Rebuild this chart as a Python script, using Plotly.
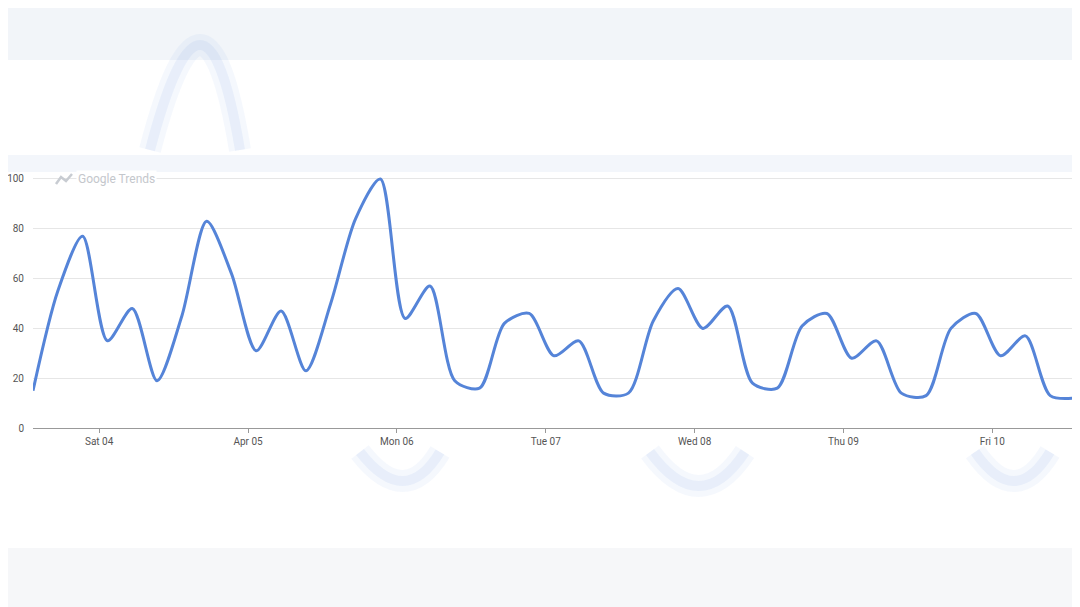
import pandas as pd
import plotly.graph_objects as go

# Google Trends interest, 4-hour steps
start = "2026-04-03 13:20"
values = [15, 55, 77, 35, 48, 19, 45, 83, 62, 31, 47, 23, 50, 84, 100, 44, 57,
          19, 16, 42, 46, 29, 35, 14, 14, 43, 56, 40, 49, 18, 16, 41, 46, 28,
          35, 14, 13, 40, 46, 29, 37, 13, 12]
times = pd.date_range(start, periods=len(values), freq="4h")

tick_dates = pd.date_range("2026-04-04", periods=7, freq="D")
tick_labels = ["Sat 04", "Apr 05", "Mon 06", "Tue 07", "Wed 08", "Thu 09", "Fri 10"]

W, H = 1080, 607
OFF = 8  # page body margin
L, R, T, B = 25, 13, 167, 187
PW, PH = W - L - R, H - T - B

fig = go.Figure()
fig.add_trace(go.Scatter(x=times, y=values, mode="lines",
                         line=dict(color="#5584d8", width=3, shape="spline", smoothing=0.8),
                         hoverinfo="x+y", showlegend=False))


# page pixel -> paper coordinates (paper is the plot area)
def px_(x):
    return (x - OFF - L) / PW


def py(y):
    return (H - B - (y - OFF)) / PH


shapes = [
    dict(type="rect", xref="paper", yref="paper", x0=px_(-10), x1=px_(1090), y0=py(60), y1=py(-10),
         fillcolor="#f2f5f9", line_width=0, layer="below"),
    dict(type="rect", xref="paper", yref="paper", x0=px_(-10), x1=px_(1090), y0=py(617), y1=py(548),
         fillcolor="#f6f7f9", line_width=0, layer="below"),
    dict(type="rect", xref="paper", yref="paper", x0=px_(-10), x1=px_(1090), y0=py(172), y1=py(155),
         fillcolor="#f3f6fb", line_width=0, layer="below"),
]
# blurred ghost curves from the page behind
ghosts = [
    (150, 150, 205, -60, 240, 150),
    (360, 452, 405, 510, 440, 452),
    (650, 452, 700, 520, 745, 452),
    (975, 452, 1015, 510, 1050, 452),
]
for x0, y0, cx, cy, x1, y1 in ghosts:
    path = "M {},{} Q {},{} {},{}".format(px_(x0), py(y0), px_(cx), py(cy), px_(x1), py(y1))
    shapes.append(dict(type="path", xref="paper", yref="paper", path=path,
                       line=dict(color="rgba(120,160,230,0.07)", width=22), layer="below"))
    shapes.append(dict(type="path", xref="paper", yref="paper", path=path,
                       line=dict(color="rgba(120,160,230,0.10)", width=10), layer="below"))

# small trends icon next to the watermark
shapes.append(dict(type="path", xref="paper", yref="paper",
                   path="M {},{} L {},{} L {},{} L {},{}".format(
                       px_(56), py(184), px_(61), py(177), px_(66), py(181), px_(72), py(174)),
                   line=dict(color="#c8ccd2", width=2.5)))

fig.update_layout(
    width=W, height=H,
    margin=dict(l=L, r=R, t=T, b=B),
    paper_bgcolor="white", plot_bgcolor="rgba(0,0,0,0)",
    font=dict(family="Roboto, Arial, sans-serif", size=10, color="#555"),
    shapes=shapes,
    annotations=[dict(text="Google Trends", xref="paper", yref="paper",
                      x=px_(76), y=py(179), xanchor="left", yanchor="middle",
                      showarrow=False, font=dict(size=12, color="#c4c7cc"),
                      bgcolor="white")],
    xaxis=dict(range=[times[0], times[-1]], tickvals=tick_dates, ticktext=tick_labels,
               showgrid=False, showline=True, linecolor="#999", linewidth=1,
               ticks="outside", ticklen=4, tickcolor="#999", fixedrange=True,
               automargin=False),
    yaxis=dict(range=[0, 101.6], tickvals=[0, 20, 40, 60, 80, 100],
               gridcolor="#e6e6e6", zeroline=False, showline=False,
               ticks="", ticklabelstandoff=8, fixedrange=True, automargin=False),
)

fig.write_html("out.html")
